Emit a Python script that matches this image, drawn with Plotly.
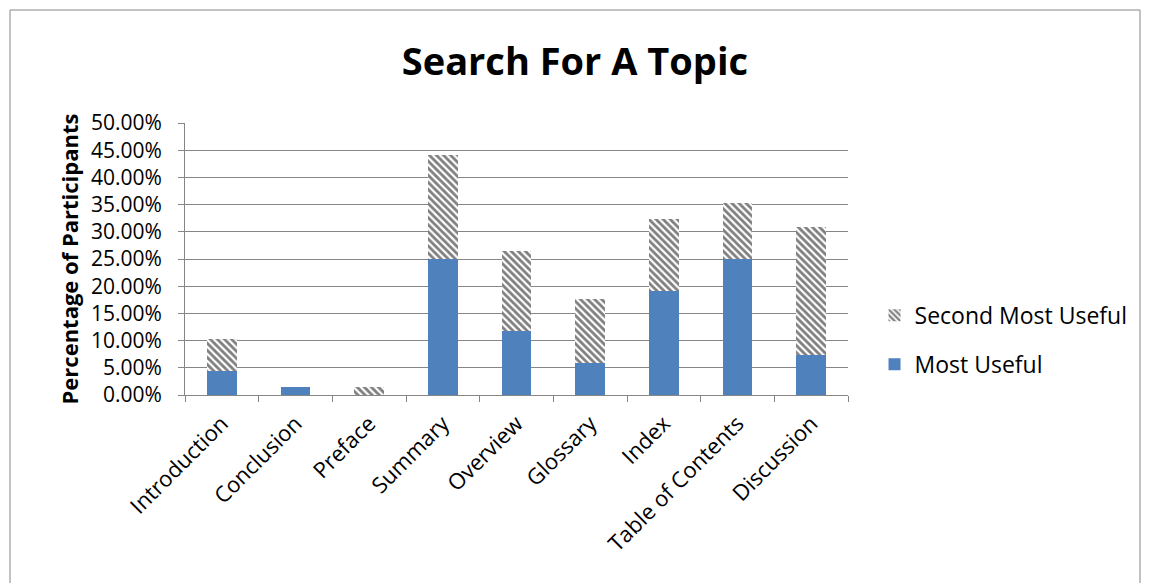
import plotly.graph_objects as go

categories = ["Introduction", "Conclusion", "Preface", "Summary", "Overview",
              "Glossary", "Index", "Table of Contents", "Discussion"]
most_useful = [0.0441, 0.0147, 0.0, 0.25, 0.1176, 0.0588, 0.1912, 0.25, 0.0735]
second_most_useful = [0.0588, 0.0, 0.0147, 0.1912, 0.1471, 0.1176, 0.1324, 0.1029, 0.2353]
y_ticks = [0, 0.05, 0.10, 0.15, 0.20, 0.25, 0.30, 0.35, 0.40, 0.45, 0.50]

FONT = "Open Sans"

fig = go.Figure()
fig.add_trace(go.Bar(
    x=categories, y=most_useful, name="Most Useful",
    marker=dict(color="#4F81BD", line=dict(width=0)),
    legendgroup="a", legendrank=2,
))
fig.add_trace(go.Bar(
    x=categories, y=second_most_useful, name="Second Most Useful",
    marker=dict(color="white", line=dict(width=0),
                pattern=dict(shape="\\", fgcolor="black", bgcolor="white",
                             size=5, solidity=0.55)),
    legendgroup="b", legendrank=1,
))

fig.update_layout(
    barmode="stack",
    bargap=0.6,
    width=1143, height=575,
    paper_bgcolor="white", plot_bgcolor="white",
    margin=dict(l=177, r=303, t=115, b=188),
    font=dict(family=FONT, color="black"),
    title=dict(text="<b>Search For A Topic</b>", x=0.496, xref="container",
               xanchor="center", y=0.906, yref="container", yanchor="middle",
               font=dict(size=38, family=FONT, color="black")),
    legend=dict(x=1.04, y=0.372, xanchor="left", yanchor="top",
                font=dict(size=23, family=FONT), tracegroupgap=16,
                traceorder="grouped", itemwidth=30),
    showlegend=True,
)
fig.update_yaxes(
    range=[0, 0.5], tickvals=y_ticks, tickformat=".2%",
    showgrid=True, gridcolor="#868686", gridwidth=1,
    showline=True, linecolor="#868686", linewidth=1,
    ticks="outside", ticklen=6, tickcolor="#868686",
    tickfont=dict(size=21, family=FONT), ticklabelstandoff=12,
    title=dict(text="<b>Percentage of Participants</b>", font=dict(size=22, family=FONT),
               standoff=6),
    zeroline=False,
)
fig.update_xaxes(
    showline=True, linecolor="#868686", linewidth=1,
    ticks="outside", ticklen=6, tickcolor="#868686", tickson="boundaries",
    tickangle=-45, tickfont=dict(size=22, family=FONT), ticklabelstandoff=6,
    showgrid=False,
)
fig.add_shape(type="rect", xref="paper", yref="paper",
              x0=-175/663, x1=(1140-185)/663, y0=-1, y1=(395-10)/272,
              line=dict(color="#868686", width=1), fillcolor="rgba(0,0,0,0)",
              layer="below")

fig.write_html("out.html")
